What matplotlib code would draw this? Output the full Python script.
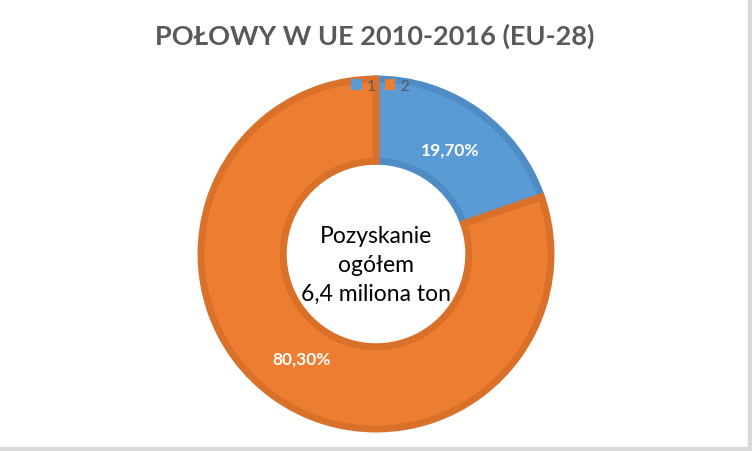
import matplotlib.pyplot as plt
from matplotlib.patches import Rectangle
import numpy as np

# dane
kategorie = ["1", "2"]
udzialy = [19.70, 80.30]
kolory = ["#5B9BD5", "#ED7D31"]
kolory_krawedzi = ["#4F8CC6", "#D9712B"]
tytul = "POŁOWY W UE 2010-2016 (EU-28)"
srodek = "Pozyskanie\nogółem\n6,4 miliona ton"

plt.rcParams['font.family'] = ['Lato', 'DejaVu Sans']

W, H = 752, 452
fig = plt.figure(figsize=(W / 100, H / 100), dpi=100)
fig.patch.set_facecolor("white")

# cień ramki (prawa i dolna krawędź)
fig.patches.append(Rectangle((0, 0), 1, 4 / H, transform=fig.transFigure,
                             color="#D9D9D9", zorder=0))
fig.patches.append(Rectangle((1 - 4 / W, 0), 4 / W, 1, transform=fig.transFigure,
                             color="#D9D9D9", zorder=0))

# oś kwadratowa wokół środka pierścienia
cx, cy, r = 376, H - 255, 175
ax = fig.add_axes([(cx - r) / W, (cy - r) / H, 2 * r / W, 2 * r / H])

etykiety = [f"{v:.2f}%".replace(".", ",") for v in udzialy]
wedges, _ = ax.pie(udzialy, colors=kolory, startangle=90, counterclock=False,
                   radius=1.0, wedgeprops=dict(width=0.47, linewidth=5))
for w, ec in zip(wedges, kolory_krawedzi):
    w.set_edgecolor(ec)
    w.set_clip_on(False)

kat = 90
for v, txt in zip(udzialy, etykiety):
    srodek_kata = np.deg2rad(kat - v * 3.6 / 2)
    kat -= v * 3.6
    ax.text(0.73 * np.cos(srodek_kata), 0.73 * np.sin(srodek_kata), txt,
            ha="center", va="center", color="white", fontsize=12.5,
            fontweight="bold")

ax.text(0, -0.06, srodek, ha="center", va="center", fontsize=16.5,
        color="black", linespacing=1.45)

ax.set_xlim(-1, 1)
ax.set_ylim(-1, 1)
ax.set_aspect("equal")
ax.axis("off")

fig.text(375 / W, 1 - 36 / H, tytul, ha="center", va="center",
         fontsize=19.5, fontweight="bold", color="#595959")

leg = fig.legend(wedges, kategorie, loc="center", bbox_to_anchor=(380 / W, 1 - 87 / H),
                 ncol=2, frameon=False, fontsize=11, handlelength=0.7,
                 handleheight=0.7, handletextpad=0.3, columnspacing=0.6,
                 labelcolor="#595959")
for h, c in zip(leg.legend_handles, kolory):
    h.set_edgecolor(c)
    h.set_linewidth(0)

fig.savefig("out.png", dpi=100, facecolor="white")
